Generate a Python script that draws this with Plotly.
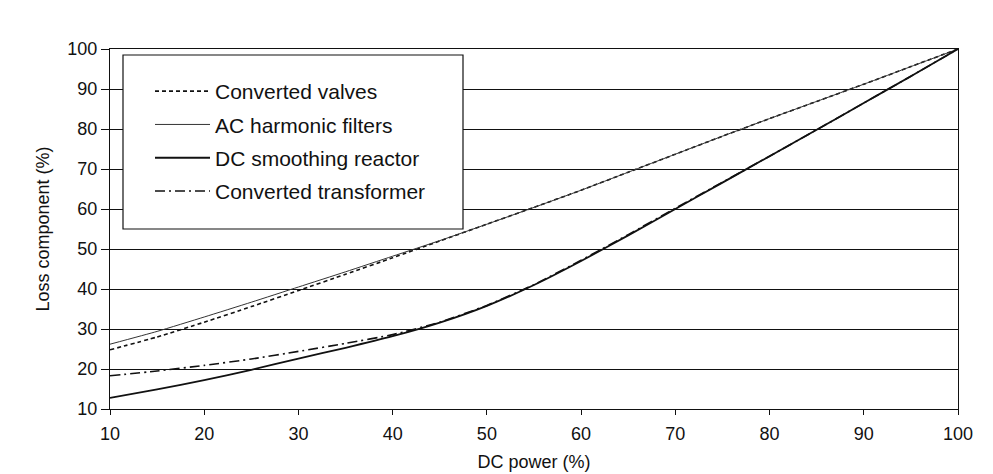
import plotly.graph_objects as go

# DC power levels (%) at which each loss component was read
dc_power = [10, 15, 20, 25, 30, 35, 40, 45, 50, 55, 60, 65, 70, 75, 80, 85, 90, 95, 100]

# Loss components (% of full-load value)
converter_valves = [24.8, 28.0, 31.7, 35.6, 39.6, 43.7, 47.8, 52.0, 56.2, 60.4, 64.7,
                    69.2, 73.7, 78.2, 82.6, 86.9, 91.2, 95.6, 100]
ac_harmonic_filters = [26.2, 29.4, 33.0, 36.7, 40.5, 44.3, 48.2, 52.1, 56.2, 60.4, 64.7,
                       69.2, 73.7, 78.2, 82.6, 86.9, 91.2, 95.6, 100]
dc_smoothing_reactor = [12.8, 14.9, 17.2, 19.8, 22.6, 25.3, 28.2, 31.6, 35.8, 41.0, 47.0,
                        53.4, 60.0, 66.6, 73.2, 79.8, 86.5, 93.2, 100]
converter_transformer = [18.3, 19.5, 20.9, 22.5, 24.4, 26.4, 28.6, 31.7, 35.9, 41.1, 47.2,
                         53.6, 60.2, 66.7, 73.2, 79.8, 86.5, 93.2, 100]

series_names = ["Converted valves", "AC harmonic filters",
                "DC smoothing reactor", "Converted transformer"]

x_ticks = [10, 20, 30, 40, 50, 60, 70, 80, 90, 100]
y_ticks = [10, 20, 30, 40, 50, 60, 70, 80, 90, 100]

FONT = "Liberation Sans, Arial, Helvetica, sans-serif"
INK = "#111111"

styles = [
    dict(color=INK, width=1.6, dash="4px,3px"),
    dict(color="#333333", width=1.0, dash="solid"),
    dict(color=INK, width=1.8, dash="solid"),
    dict(color=INK, width=1.6, dash="10px,4px,2px,4px"),
]
values = [converter_valves, ac_harmonic_filters, dc_smoothing_reactor, converter_transformer]

fig = go.Figure()
for name, ys, st in zip(series_names, values, styles):
    fig.add_trace(go.Scatter(
        x=dc_power, y=ys, name=name, mode="lines",
        line=dict(shape="spline", smoothing=0.5, **st),
        legendgroup=name,
    ))

# White framed box holding the legend entries
fig.add_shape(type="rect", xref="paper", yref="paper",
              x0=(123 - 110) / 848, x1=(463 - 110) / 848,
              y0=(409 - 229) / 360, y1=(409 - 55) / 360,
              fillcolor="white", line=dict(color=INK, width=1.2), layer="above")

fig.update_layout(
    width=993, height=474,
    margin=dict(l=110, r=35, t=49, b=65),
    paper_bgcolor="white", plot_bgcolor="white",
    font=dict(family=FONT, color=INK, size=18),
    legend=dict(
        x=(150 - 110) / 848, y=(409 - 71) / 360,
        xanchor="left", yanchor="top",
        bgcolor="rgba(0,0,0,0)", borderwidth=0,
        font=dict(size=21, family=FONT, color=INK),
        itemwidth=55, tracegroupgap=3,
    ),
    showlegend=True,
)

fig.update_xaxes(
    range=[10, 100], tickvals=x_ticks, ticktext=[str(v) for v in x_ticks],
    showgrid=False, zeroline=False, automargin=False,
    showline=True, linecolor=INK, linewidth=1.3, mirror=True,
    ticks="outside", ticklen=5, tickcolor=INK, tickwidth=1.3,
    ticklabelstandoff=3,
    tickfont=dict(size=18, family=FONT, color=INK),
    title=dict(text="DC power (%)", font=dict(size=18, family=FONT, color=INK), standoff=12),
)
fig.update_yaxes(
    range=[10, 100], tickvals=y_ticks, ticktext=[str(v) for v in y_ticks],
    showgrid=True, gridcolor=INK, gridwidth=1.3, zeroline=False, automargin=False,
    showline=True, linecolor=INK, linewidth=1.3, mirror=True,
    ticks="outside", ticklen=8, tickcolor=INK, tickwidth=1.3,
    tickfont=dict(size=18, family=FONT, color=INK),
    title=dict(text="Loss component (%)", font=dict(size=18, family=FONT, color=INK), standoff=12),
)

fig.write_html("out.html")
